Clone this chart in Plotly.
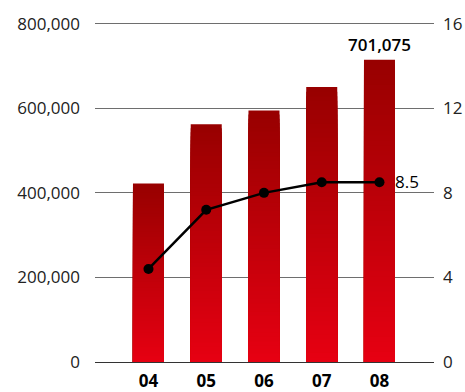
import plotly.graph_objects as go
from plotly.subplots import make_subplots

years = ["04", "05", "06", "07", "08"]
sales = [422000, 562000, 595000, 650000, 715000]
ratio = [4.4, 7.2, 8.0, 8.5, 8.5]
bar_label = "701,075"
line_label = "8.5"

top_rgb = (152, 0, 0)
bot_rgb = (230, 0, 18)
N = 60

fig = make_subplots(specs=[[{"secondary_y": True}]])
xs = list(range(len(years)))
for k in range(N):
    t = k / (N - 1)
    c = tuple(round(top_rgb[i] + (bot_rgb[i] - top_rgb[i]) * t) for i in range(3))
    frac = (N - k) / N
    fig.add_trace(go.Bar(
        x=xs, y=[v * frac for v in sales], width=0.537,
        marker=dict(color="rgb(%d,%d,%d)" % c, line=dict(width=0)),
        showlegend=False, hoverinfo="skip"), secondary_y=False)

fig.add_trace(go.Scatter(
    x=xs, y=ratio, mode="lines+markers",
    line=dict(color="black", width=2.5),
    marker=dict(color="black", size=10),
    showlegend=False), secondary_y=True)

fig.add_annotation(x=xs[-1], y=sales[-1], text=bar_label, showarrow=False,
                   yanchor="bottom", yshift=2, xref="x", yref="y",
                   font=dict(family="Open Sans", size=17, color="black", weight=600))
fig.add_annotation(x=xs[-1], y=ratio[-1], text=line_label, showarrow=False,
                   xanchor="left", yanchor="middle", xshift=14, yshift=1,
                   xref="x", yref="y2",
                   font=dict(family="Open Sans", size=17, color="black"))

fig.update_layout(
    width=465, height=392, barmode="overlay",
    margin=dict(l=95, r=31, t=22, b=30),
    plot_bgcolor="white", paper_bgcolor="white",
    font=dict(family="Open Sans", size=17, color="#222"),
)
fig.update_xaxes(domain=[0, 1], range=[-0.926, 4.944], tickmode="array", tickvals=xs,
                 ticktext=years, tickfont=dict(size=17, weight="bold", color="black"),
                 showgrid=False, showline=False, zeroline=False, automargin=False,
                 ticklabelstandoff=7)
fig.update_yaxes(range=[0, 804000], tickvals=[0, 200000, 400000, 600000, 800000],
                 tickformat=",d", showgrid=True, gridcolor="#6e6e6e", gridwidth=1,
                 zeroline=True, zerolinecolor="#333", zerolinewidth=1,
                 ticklabelstandoff=14, automargin=False, secondary_y=False)
fig.update_yaxes(range=[0, 16.08], tickvals=[0, 4, 8, 12, 16], showgrid=False,
                 zeroline=False, ticklabelstandoff=8, automargin=False, secondary_y=True)

fig.write_html("out.html")
